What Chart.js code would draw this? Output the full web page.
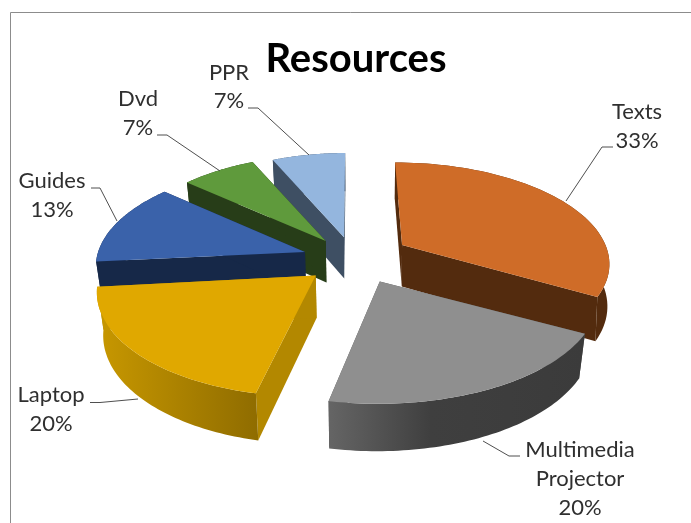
<!DOCTYPE html>
<html>
<head>
<meta charset="utf-8">
<script src="https://cdn.jsdelivr.net/npm/chart.js@4"></script>
<style>html,body{margin:0;padding:0;background:#fff}canvas{display:block}</style>
</head>
<body>
<canvas id="c" width="691" height="523"></canvas>
<script>
const titleText = "Resources";
const categories = ["Texts", "Multimedia Projector", "Laptop", "Guides", "Dvd", "PPR"];
const shares = [33, 20, 20, 13, 7, 7];

const topColors = ["#cf6c28", "#8f8f8f", "#e0a800", "#3a62aa", "#5f9a3c", "#94b6de"];
const wallColors = ["#532b0e", "#555555", "#b38800", "#162848", "#273d18", "#3e4f63"];
const rimStops = [
  [[0, "#532b0e"], [1, "#532b0e"]],
  [[0, "#656565"], [0.4, "#3f3f3f"], [1, "#3b3b3b"]],
  [[0, "#c89800"], [1, "#8f6c00"]],
  [[0, "#162848"], [1, "#162848"]],
  [[0, "#273d18"], [1, "#273d18"]],
  [[0, "#3e4f63"], [1, "#3e4f63"]]
];
const paintOrder = [5, 4, 3, 0, 2, 1];

const view = {cx: 352, cy: 258, a: 215, b: 100, persp: 0.148, explode: 0.22, depth: 42};
// per-slice screen corrections for the picture's own perspective
const sliceFit = [
  {ax: 0.975, dx: 8, dy: 0, apex: [2, -2], taper: 0.008, lean: 0},
  {ax: 1, dx: 1, dy: 0, apex: [6, 3], taper: 0.025, lean: 0},
  {ax: 0.98, dx: -1, dy: 0, apex: [0, 2], taper: 0.025, lean: 0.026},
  {ax: 0.98, dx: 1, dy: -3, apex: [-3, 3], taper: 0.025, lean: 0},
  {ax: 0.94, dx: 0, dy: -3, apex: [2, 3], taper: 0.025, lean: 0},
  {ax: 0.92, dx: 2, dy: -2, apex: [0, 2], taper: 0.025, lean: 0}
];

const labelLayout = [
  {lines: ["Texts"], x: 637, y: [119, 148], leader: [[613,147],[602,147],[566,201]]},
  {lines: ["Multimedia", "Projector"], x: 580, y: [457, 486, 515], leader: [[520,456],[509,456],[483,441]]},
  {lines: ["Laptop"], x: 51, y: [402, 431], leader: [[90,402.5],[100,402.5],[138,399]]},
  {lines: ["Guides"], x: 52, y: [188, 217], leader: [[91,188],[100,188],[117,221]]},
  {lines: ["Dvd"], x: 138, y: [106, 135], leader: [[157,135],[167,135],[220,171]]},
  {lines: ["PPR"], x: 229, y: [80, 108], leader: [[248,108],[258,108],[309,155]]}
];

function project(wx, wy, z, taper) {
  const s = 1 / (1 + view.persp * wy);
  const t = 1 - z * taper;
  return [view.cx + wx * view.a * s * t, view.cy - wy * view.b * s * t + z * view.depth * s];
}
function fillPoly(ctx, pts, fill) {
  ctx.beginPath();
  pts.forEach((p, i) => i ? ctx.lineTo(p[0], p[1]) : ctx.moveTo(p[0], p[1]));
  ctx.closePath();
  ctx.fillStyle = fill;
  ctx.fill();
}

const pie3d = {
  id: "pie3d",
  beforeDraw(chart) {
    const ctx = chart.ctx;
    ctx.save();
    ctx.fillStyle = "#ffffff";
    ctx.fillRect(0, 0, chart.width, chart.height);
    ctx.strokeStyle = "#8c8c8c";
    ctx.lineWidth = 1;
    ctx.beginPath();
    ctx.moveTo(10.5, 523);
    ctx.lineTo(10.5, 12.5);
    ctx.lineTo(691, 12.5);
    ctx.stroke();
    ctx.restore();
  },
  beforeDatasetsDraw(chart) {
    const ctx = chart.ctx;
    const arcs = chart.getDatasetMeta(0).data;
    ctx.save();
    paintOrder.forEach(i => {
      const arc = arcs[i];
      const fit = sliceFit[i];
      const t0 = arc.startAngle + Math.PI / 2 + fit.lean;
      const t1 = arc.endAngle + Math.PI / 2;
      const mid = (arc.startAngle + arc.endAngle) / 2 + Math.PI / 2;
      const ox = Math.sin(mid) * view.explode;
      const oy = Math.cos(mid) * view.explode;
      const base = project(ox, oy, 0, fit.taper);
      const place = p => [base[0] + (p[0] - base[0]) * fit.ax + fit.dx, p[1] + fit.dy];
      const n = 60;
      const rimW = [];
      for (let k = 0; k <= n; k++) {
        const t = t0 + (t1 - t0) * k / n;
        rimW.push([ox + Math.sin(t), oy + Math.cos(t)]);
      }
      const top = rimW.map(w => place(project(w[0], w[1], 0, fit.taper)));
      const bot = rimW.map(w => place(project(w[0], w[1], 1, fit.taper)));
      const nudge = p => [p[0] + fit.apex[0], p[1] + fit.apex[1]];
      const apexT = nudge(place(project(ox, oy, 0, fit.taper)));
      const apexB = nudge(place(project(ox, oy, 1, fit.taper)));
      fillPoly(ctx, [apexT, top[0], bot[0], apexB], wallColors[i]);
      fillPoly(ctx, [apexT, top[n], bot[n], apexB], wallColors[i]);
      const xs = top.concat(bot).map(p => p[0]);
      const g = ctx.createLinearGradient(Math.min(...xs), 0, Math.max(...xs), 0);
      rimStops[i].forEach(s => g.addColorStop(s[0], s[1]));
      fillPoly(ctx, top.concat(bot.slice().reverse()), g);
      fillPoly(ctx, [apexT].concat(top), topColors[i]);
    });
    ctx.restore();
    ctx.save();
    const total = shares.reduce((p, c) => p + c, 0);
    ctx.strokeStyle = "#4f4f4f";
    ctx.lineWidth = 1;
    labelLayout.forEach((l, i) => {
      ctx.beginPath();
      l.leader.forEach((p, k) => k ? ctx.lineTo(p[0], p[1]) : ctx.moveTo(p[0], p[1]));
      ctx.stroke();
      ctx.fillStyle = "#2f2f2f";
      ctx.font = "22px Lato";
      ctx.textAlign = "center";
      ctx.textBaseline = "alphabetic";
      const lines = l.lines.concat([Math.round(shares[i] / total * 100) + "%"]);
      lines.forEach((t, k) => ctx.fillText(t, l.x, l.y[k]));
    });
    ctx.fillStyle = "#000000";
    ctx.font = "bold 40px Lato";
    ctx.textAlign = "center";
    ctx.fillText(titleText, 356, 72);
    ctx.restore();
    return false;
  }
};

new Chart(document.getElementById("c"), {
  type: "pie",
  data: {
    labels: categories,
    datasets: [{data: shares, backgroundColor: topColors, borderWidth: 0}]
  },
  options: {
    responsive: false,
    animation: false,
    plugins: {legend: {display: false}, tooltip: {enabled: false}, title: {display: false}}
  },
  plugins: [pie3d]
});
</script>
</body>
</html>
